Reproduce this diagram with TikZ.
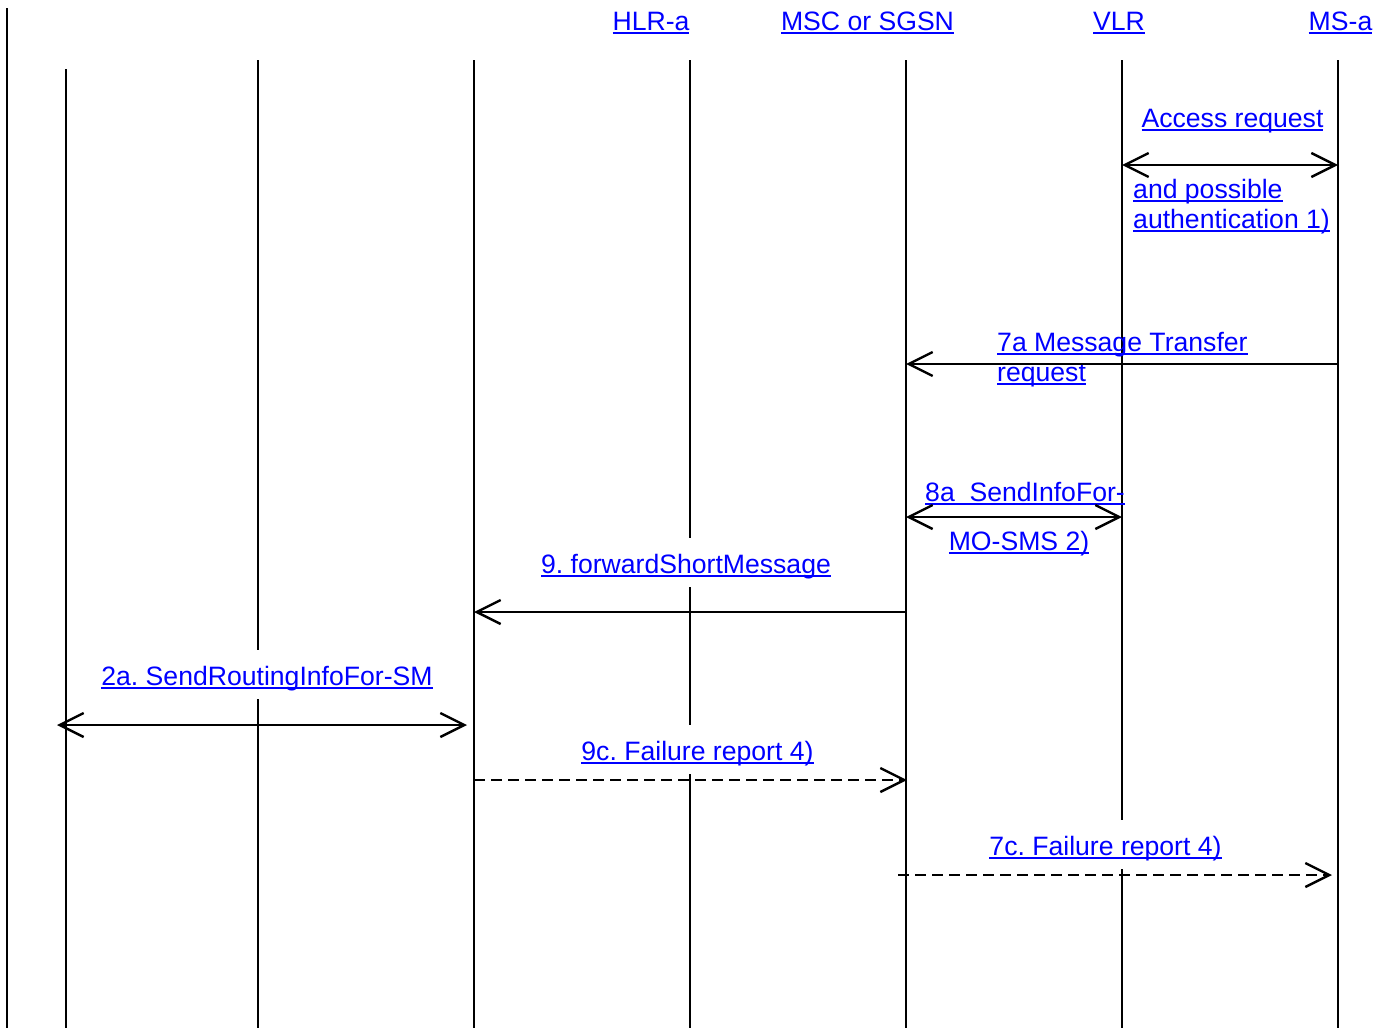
\documentclass[tikz,border=0pt]{standalone}
\usepackage{fontspec}
\setmainfont{Liberation Sans}
\usetikzlibrary{arrows.meta}
\definecolor{lnk}{RGB}{0,0,255}
\newlength\ulw
\newcommand\ulk[1]{\settowidth\ulw{#1}\rlap{#1}\rule[-3.6pt]{\ulw}{1.6pt}}
\frenchspacing
\begin{document}
\begin{tikzpicture}[x=1pt,y=-1pt,
  life/.style={line width=2.6pt},
  msg/.style={line width=2.4pt},
  tipr/.style={-{Straight Barb[length=24pt,width=24pt]}},
  tipb/.style={{Straight Barb[length=24pt,width=24pt]}-{Straight Barb[length=24pt,width=24pt]}},
  dsh/.style={dash pattern=on 11pt off 6pt},
  lbl/.style={inner sep=0pt, text=lnk, font=\fontsize{26.6}{31}\selectfont},
  lblw/.style={lbl, fill=white, inner xsep=8pt, inner ysep=0pt, text height=35pt, text depth=14pt}]
\fill[white] (0,0) rectangle (1391,1028);
\useasboundingbox (0,0) rectangle (1391,1028);
% lifelines
\coordinate (bT) at (7,8);    \coordinate (bB) at (7,1028);
\coordinate (aT) at (66,69);  \coordinate (aB) at (66,1028);
\coordinate (cT) at (258,60); \coordinate (cB) at (258,1028);
\coordinate (dT) at (474,60); \coordinate (dB) at (474,1028);
\coordinate (hT) at (690,60); \coordinate (hB) at (690,1028);
\coordinate (mT) at (906,60); \coordinate (mB) at (906,1028);
\coordinate (vT) at (1122,60);\coordinate (vB) at (1122,1028);
\coordinate (sT) at (1338,60);\coordinate (sB) at (1338,1028);
\foreach \p in {b,a,c,d,h,m,v,s} \draw[life] (\p T) -- (\p B);
% headers
\node[lbl, anchor=base] (nh) at (651,30) {\ulk{HLR-a}};
\node[lbl, anchor=base] (nm) at (867.5,30) {\ulk{MSC or SGSN}};
\node[lbl, anchor=base] (nv) at (1119,30) {\ulk{VLR}};
\node[lbl, anchor=base] (ns) at (1340.5,30) {\ulk{MS-a}};
% labels
\node[lbl, anchor=base] (t1) at (1232.5,127) {\ulk{Access request}};
\node[lbl, anchor=base west] (t2) at (1133,198) {\ulk{and possible}};
\node[lbl, anchor=base west] (t3) at (1133,228) {\ulk{authentication 1)}};
\node[lbl, anchor=base west] (t4) at (997,351) {\ulk{7a Message Transfer}};
\node[lbl, anchor=base west] (t5) at (997,381) {\ulk{request}};
\node[lbl, anchor=base west] (t6) at (925,501) {\ulk{8a\ \ SendInfoFor-}};
\node[lbl, anchor=base] (t7) at (1019,550) {\ulk{MO-SMS 2)}};
\node[lblw, anchor=base] (t8) at (686,573) {\ulk{9. forwardShortMessage}};
\node[lblw, anchor=base] (t9) at (267,685) {\ulk{2a. SendRoutingInfoFor-SM}};
\node[lblw, anchor=base] (t10) at (697.5,760) {\ulk{9c. Failure report 4)}};
\node[lblw, anchor=base] (t11) at (1105.5,855) {\ulk{7c. Failure report 4)}};
% message end points
\coordinate (a1) at (1122,165); \coordinate (b1) at (1338,165);
\coordinate (a2) at (1338,364); \coordinate (b2) at (906,364);
\coordinate (a3) at (906,517);  \coordinate (b3) at (1122,517);
\coordinate (a4) at (906,612);  \coordinate (b4) at (474,612);
\coordinate (a5) at (57,725);   \coordinate (b5) at (467,725);
\coordinate (a6) at (474,780);  \coordinate (b6) at (907,780);
\coordinate (a7) at (898,875);  \coordinate (b7) at (1332,875);
\draw[msg, tipb] (a1) -- (b1);
\draw[msg, tipr] (a2) -- (b2);
\draw[msg, tipb] (a3) -- (b3);
\draw[msg, tipr] (a4) -- (b4);
\draw[msg, tipb] (a5) -- (b5);
\draw[msg, tipr, dsh] (a6) -- (b6);
\draw[msg, tipr, dsh] (a7) -- (b7);
\end{tikzpicture}
\end{document}
